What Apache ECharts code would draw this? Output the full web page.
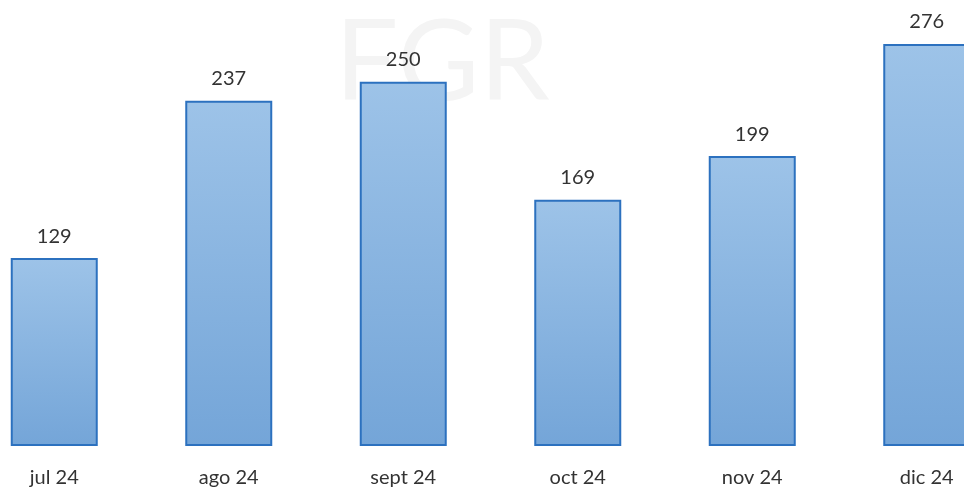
<!DOCTYPE html>
<html>
<head>
<meta charset="utf-8">
<script src="https://cdn.jsdelivr.net/npm/echarts@6/dist/echarts.min.js"></script>
<style>
html,body{margin:0;padding:0;background:#fff;}
#chart{width:964px;height:489px;}
</style>
</head>
<body>
<div id="chart"></div>
<script>
// datos
var categories = ['jul 24', 'ago 24', 'sept 24', 'oct 24', 'nov 24', 'dic 24'];
var values = [129, 237, 250, 169, 199, 276];

var myChart = echarts.init(document.getElementById('chart'));
var option = {
    backgroundColor: '#fff',
    animation: false,
    graphic: [{
        type: 'text',
        left: 335,
        top: 8,
        z: -1,
        style: { text: 'FGR', fontSize: 112, fontFamily: 'Lato', fill: '#f4f4f4', fontWeight: 'normal' }
    }],
    grid: { left: -33, width: 1047, top: 9, bottom: 43, outerBoundsMode: 'none', containLabel: false },
    xAxis: {
        type: 'category',
        data: categories,
        axisLine: { show: false },
        axisTick: { show: false },
        axisLabel: { color: '#333', fontSize: 20, fontFamily: 'Lato', margin: 22 }
    },
    yAxis: {
        type: 'value',
        min: 0,
        max: 300,
        show: false,
        splitLine: { show: false }
    },
    series: [{
        type: 'bar',
        data: values,
        barWidth: 87,
        itemStyle: {
            color: new echarts.graphic.LinearGradient(0, 0, 0, 1, [
                { offset: 0, color: '#9dc3e8' },
                { offset: 1, color: '#74a5d8' }
            ]),
            borderColor: '#2c71bf',
            borderWidth: 2
        },
        label: {
            show: true,
            position: 'top',
            distance: 12,
            color: '#333',
            fontSize: 20,
            fontFamily: 'Lato'
        }
    }]
};
myChart.setOption(option);
</script>
</body>
</html>
